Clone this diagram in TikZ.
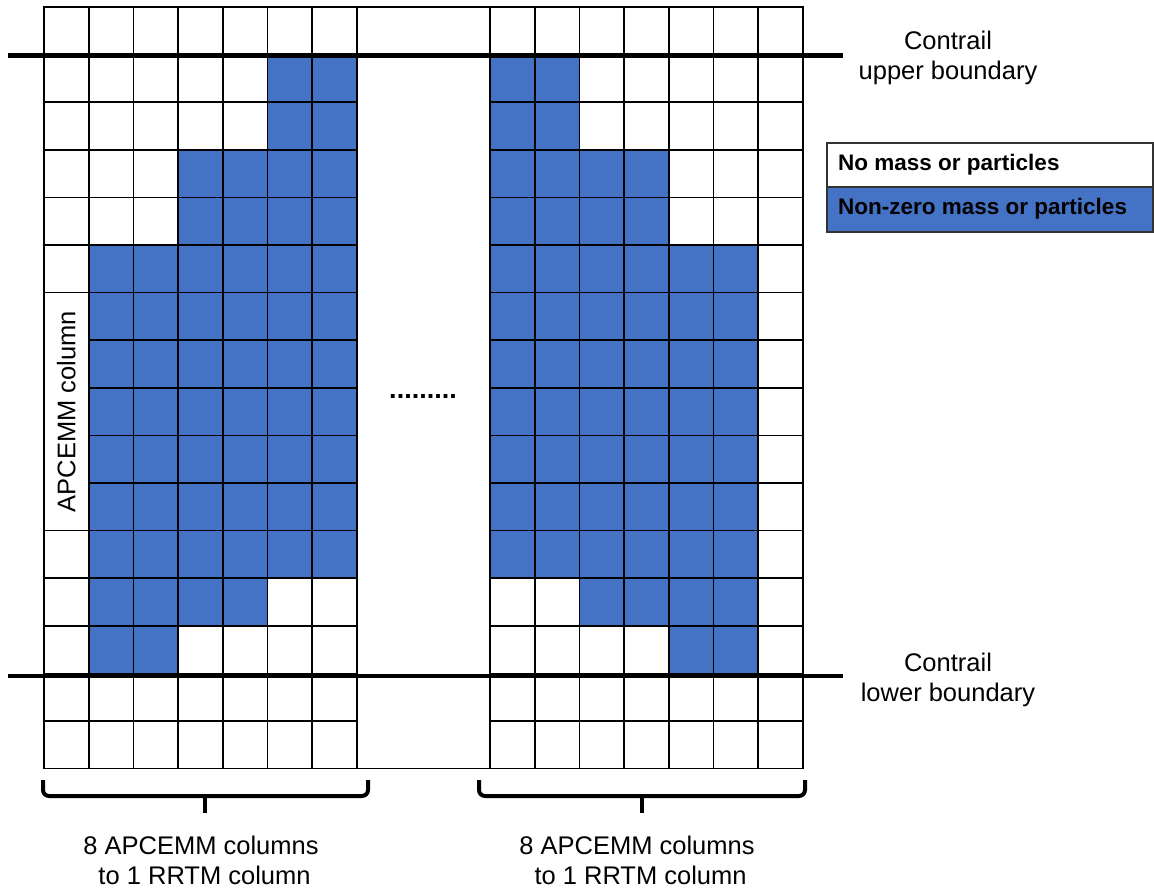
\documentclass[tikz,border=0pt]{standalone}
\usepackage{fontspec}
\setmainfont{Liberation Sans}
\definecolor{massblue}{RGB}{68,114,196}
\begin{document}
\begin{tikzpicture}[x=1pt,y=-1pt,
  cell/.style={draw=black, line width=1.6pt},
  bound/.style={draw=black, line width=4.5pt},
  bracket/.style={draw=black, line width=4pt, rounded corners=6pt},
  lbl/.style={font=\fontsize{25.5}{30}\selectfont, align=center, inner sep=0pt},
  legendbox/.style={draw=black!80, line width=1.6pt, minimum width=326pt, minimum height=44.5pt, anchor=north west, inner sep=0pt},
  legendtext/.style={font=\bfseries\fontsize{22.5}{26}\selectfont, anchor=base west, inner sep=0pt}]
\useasboundingbox (0,0) rectangle (1154,893);
\def\cw{44.7}
\def\rh{47.6}

% cells holding mass or particles: block x-origin / row / first col / last col
\foreach \bx/\r/\a/\b in {
  44/1/5/6, 44/2/5/6, 44/3/3/6, 44/4/3/6, 44/5/1/6, 44/6/1/6, 44/7/1/6,
  44/8/1/6, 44/9/1/6, 44/10/1/6, 44/11/1/6, 44/12/1/4, 44/13/1/2,
  490/1/0/1, 490/2/0/1, 490/3/0/3, 490/4/0/3, 490/5/0/5, 490/6/0/5, 490/7/0/5,
  490/8/0/5, 490/9/0/5, 490/10/0/5, 490/11/0/5, 490/12/2/5, 490/13/4/5}
  \fill[massblue] ({\bx+\cw*\a},{7+\rh*\r}) rectangle ({\bx+\cw*(\b+1)},{7+\rh*(\r+1)});

% grid of APCEMM cells
\foreach \bx in {44,490}
  \foreach \r in {0,...,15}
    \foreach \c in {0,...,6}
      \draw[cell] ({\bx+\cw*\c},{7+\rh*\r}) rectangle +(\cw,\rh);
\draw[cell] (357,7) -- (490,7);
\draw[cell] (357,768.6) -- (490,768.6);

% single APCEMM column marker
\node[draw=black, line width=1.6pt, fill=white, rotate=90, minimum width=238pt,
      minimum height=44.7pt, inner sep=0pt, font=\fontsize{25.5}{30}\selectfont]
      (apcemm) at (66.35,411.6) {APCEMM column};

% contrail boundaries
\coordinate (ubL) at (8,55.5);
\coordinate (ubR) at (843,55.5);
\coordinate (lbL) at (8,676);
\coordinate (lbR) at (843,676);
\draw[bound] (ubL) -- (ubR);
\draw[bound] (lbL) -- (lbR);
\node[lbl] (ubtext) at (948,58.4) {Contrail\\upper boundary};
\node[lbl] (lbtext) at (948,680) {Contrail\\lower boundary};

% ellipsis between the two column groups
\node[font=\bfseries\fontsize{27}{30}\selectfont, anchor=base, inner sep=0pt] (dots) at (423,398) {.........};

% legend
\node[legendbox, fill=white] (legnone) at (826,142) {};
\node[legendbox, fill=massblue] (legmass) at (826,186.5) {};
\node[legendtext] (legnonetext) at (838,171) {No mass or particles};
\node[legendtext] (legmasstext) at (838,215) {Non-zero mass or particles};

% brackets grouping APCEMM columns into RRTM columns
\draw[bracket] (43,780) -- (43,796) -- (368,796) -- (368,780);
\draw[line width=4pt] (205,796) -- (205,813);
\draw[bracket] (479,780) -- (479,796) -- (805,796) -- (805,780);
\draw[line width=4pt] (642,796) -- (642,813);
\node[lbl] (grpL) at (201,860.5) {8 APCEMM columns\\\ to 1 RRTM column};
\node[lbl] (grpR) at (637,860.5) {8 APCEMM columns\\\ to 1 RRTM column};
\end{tikzpicture}
\end{document}
